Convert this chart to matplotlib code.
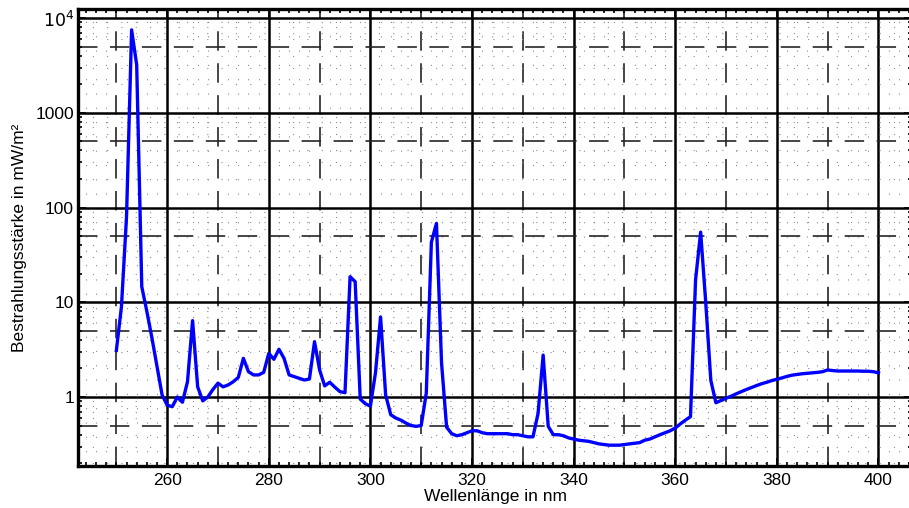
import numpy as np
import matplotlib
matplotlib.use('Agg')
import matplotlib.pyplot as plt
from matplotlib.ticker import FixedLocator, NullFormatter, FixedFormatter

plt.rcParams['font.family'] = ['Liberation Sans', 'DejaVu Sans']
plt.rcParams['lines.scale_dashes'] = False

# Wellenlänge (nm), 1-nm-Schritte
wellenlaenge = np.arange(250, 401)

# Bestrahlungsstärke (mW/m²)
bestrahlung = [
    3.1, 9.0, 80, 7500, 3200, 14.6, 8.0, 4.2, 2.1, 1.05,          # 250-259
    0.82, 0.79, 1.0, 0.88, 1.45, 6.4, 1.28, 0.91, 1.0, 1.2,       # 260-269
    1.40, 1.28, 1.34, 1.45, 1.61, 2.56, 1.85, 1.71, 1.71, 1.82,   # 270-279
    2.89, 2.5, 3.19, 2.56, 1.71, 1.64, 1.57, 1.51, 1.55, 3.84,    # 280-289
    1.93, 1.31, 1.43, 1.27, 1.14, 1.11, 18.6, 16.5, 0.95, 0.85,   # 290-299
    0.80, 1.8, 7.0, 1.05, 0.65, 0.6, 0.57, 0.53, 0.5, 0.49,       # 300-309
    0.5, 1.1, 43, 68, 2.3, 0.48, 0.41, 0.39, 0.40, 0.42,          # 310-319
    0.44, 0.44, 0.42, 0.41, 0.41, 0.41, 0.41, 0.41, 0.40, 0.40,   # 320-329
    0.39, 0.38, 0.38, 0.67, 2.77, 0.49, 0.40, 0.40, 0.39, 0.37,   # 330-339
    0.36, 0.35, 0.345, 0.34, 0.33, 0.32, 0.315, 0.31, 0.31, 0.31, # 340-349
    0.315, 0.32, 0.325, 0.33, 0.35, 0.36, 0.38, 0.40, 0.42, 0.44, # 350-359
    0.47, 0.52, 0.57, 0.62, 17.2, 55, 10, 1.5, 0.87, 0.92,        # 360-369
    0.97, 1.02, 1.08, 1.14, 1.2, 1.26, 1.32, 1.38, 1.43, 1.49,    # 370-379
    1.54, 1.59, 1.65, 1.7, 1.73, 1.76, 1.78, 1.8, 1.82, 1.85,     # 380-389
    1.93, 1.9, 1.88, 1.88, 1.88, 1.88, 1.88, 1.87, 1.87, 1.85,    # 390-399
    1.8,                                                          # 400
]

x_beschriftung = [260, 280, 300, 320, 340, 360, 380, 400]
y_beschriftung = ['1', '10', '100', '1000', r'$10^4$']

fig = plt.figure(figsize=(9.09, 5.08), dpi=100)
ax = fig.add_axes([0.0861, 0.0827, 0.9172, 0.8986])
ax.set_yscale('log')
ax.set_xlim(242.5, 406.6)
ax.set_ylim(0.187, 12300)

# Gitter: durchgezogen (Dekaden / 20 nm), gestrichelt (5er / 10 nm), gepunktet (Rest)
for xv in range(260, 401, 20):
    ax.axvline(xv, color='black', lw=1.8, zorder=1)
for xv in range(250, 401, 20):
    ax.axvline(xv, color='0.15', lw=1.2, ls=(0, (14, 9)), zorder=1)
for xv in range(244, 407, 2):
    if xv % 10 != 0:
        ax.axvline(xv, color='0.55', lw=0.8, ls=(0, (0.8, 9.5)), zorder=1)

for e in range(-1, 5):
    d = 10.0 ** e
    if e >= 0:
        ax.axhline(d, color='black', lw=1.8, zorder=1)
    ax.axhline(5 * d, color='0.15', lw=1.2, ls=(0, (14, 9)), zorder=1)
    for m in [2, 3, 4, 6, 7, 8, 9]:
        ax.axhline(m * d, color='0.55', lw=0.8, ls=(0, (0.8, 9.5)), zorder=1)

ax.plot(wellenlaenge, bestrahlung, color='#0000ff', lw=2.4, zorder=3)

ax.xaxis.set_major_locator(FixedLocator(x_beschriftung))
ax.xaxis.set_minor_locator(FixedLocator(np.arange(244, 407, 2)))
ax.yaxis.set_major_locator(FixedLocator([1, 10, 100, 1000, 10000]))
ax.yaxis.set_major_formatter(FixedFormatter(y_beschriftung))
ax.yaxis.set_minor_locator(FixedLocator([m * 10.0 ** e for e in range(-1, 4) for m in range(2, 10)]))
ax.yaxis.set_minor_formatter(NullFormatter())

ax.tick_params(which='both', direction='in', top=True, right=True, labelsize=12.5, colors='black')
ax.tick_params(which='major', length=6, width=1.2, pad=5)
ax.tick_params(which='minor', length=3, width=1.2)
ax.tick_params(axis='y', pad=3)

for s in ax.spines.values():
    s.set_linewidth(2.4)

ax.set_xlabel('Wellenlänge in nm', fontsize=12.5, labelpad=1)
ax.set_ylabel('Bestrahlungsstärke in mW/m²', fontsize=12.5, labelpad=6)

fig.savefig('out.png', dpi=100)
